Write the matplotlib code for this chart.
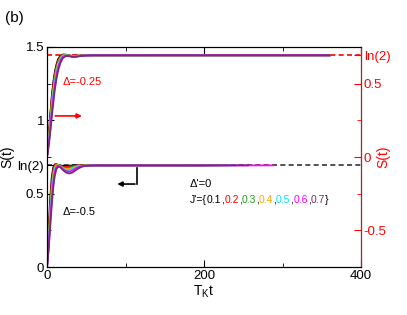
import numpy as np
import matplotlib.pyplot as plt

plt.rcParams['font.family'] = ['Liberation Sans', 'DejaVu Sans']
plt.rcParams['mathtext.fontset'] = 'custom'
plt.rcParams['mathtext.rm'] = 'Liberation Sans'
plt.rcParams['mathtext.it'] = 'Liberation Sans:italic'

LN2 = np.log(2)

# time grid of the early part (T_K t), same for all curves
t_grid = [0, 2, 4, 6, 8, 10, 12, 14, 17, 20, 24, 28, 32, 36, 40, 45, 50, 60, 80]

j_values = ['0.1', '0.2', '0.3', '0.4', '0.5', '0.6', '0.7']
colors = ['black', 'red', '#1a9e1a', '#ffa500', '#00e5ff', '#ff00ff', '#7b2a7b']

# Delta = -0.5, left axis
s_low = [
    [0, 0.24, 0.46, 0.61, 0.68, 0.700, 0.700, 0.696, 0.692, 0.690, 0.690, 0.691, 0.692, 0.693, 0.693, 0.693, 0.693, 0.693, 0.693],
    [0, 0.21, 0.42, 0.58, 0.665, 0.695, 0.700, 0.697, 0.690, 0.685, 0.683, 0.685, 0.688, 0.690, 0.692, 0.693, 0.693, 0.693, 0.693],
    [0, 0.19, 0.39, 0.55, 0.645, 0.688, 0.698, 0.696, 0.688, 0.680, 0.675, 0.677, 0.682, 0.687, 0.690, 0.692, 0.693, 0.693, 0.693],
    [0, 0.17, 0.36, 0.52, 0.625, 0.678, 0.695, 0.695, 0.686, 0.675, 0.668, 0.668, 0.675, 0.683, 0.688, 0.691, 0.693, 0.693, 0.693],
    [0, 0.15, 0.33, 0.49, 0.600, 0.665, 0.690, 0.693, 0.685, 0.672, 0.662, 0.660, 0.667, 0.678, 0.685, 0.690, 0.692, 0.693, 0.693],
    [0, 0.13, 0.30, 0.46, 0.575, 0.648, 0.682, 0.690, 0.683, 0.668, 0.654, 0.650, 0.657, 0.670, 0.681, 0.688, 0.691, 0.693, 0.693],
    [0, 0.11, 0.27, 0.42, 0.545, 0.625, 0.668, 0.684, 0.680, 0.663, 0.645, 0.638, 0.643, 0.658, 0.673, 0.685, 0.690, 0.693, 0.693],
]
t_end_low = [200, 210, 220, 230, 240, 288, 256]

# Delta = -0.25, right axis
s_up = [
    [0, 0.13, 0.28, 0.41, 0.51, 0.580, 0.630, 0.665, 0.690, 0.698, 0.697, 0.692, 0.689, 0.690, 0.691, 0.692, 0.693, 0.693, 0.693],
    [0, 0.12, 0.26, 0.39, 0.49, 0.565, 0.620, 0.655, 0.685, 0.696, 0.697, 0.692, 0.688, 0.689, 0.690, 0.692, 0.693, 0.693, 0.693],
    [0, 0.11, 0.24, 0.37, 0.47, 0.550, 0.605, 0.645, 0.680, 0.694, 0.696, 0.691, 0.687, 0.688, 0.690, 0.692, 0.693, 0.693, 0.693],
    [0, 0.10, 0.22, 0.35, 0.45, 0.530, 0.590, 0.635, 0.673, 0.691, 0.695, 0.690, 0.686, 0.687, 0.689, 0.691, 0.693, 0.693, 0.693],
    [0, 0.09, 0.20, 0.32, 0.43, 0.510, 0.575, 0.620, 0.665, 0.687, 0.694, 0.690, 0.685, 0.685, 0.688, 0.691, 0.693, 0.693, 0.693],
    [0, 0.08, 0.18, 0.30, 0.40, 0.490, 0.555, 0.605, 0.655, 0.682, 0.692, 0.689, 0.684, 0.684, 0.687, 0.690, 0.692, 0.693, 0.693],
    [0, 0.07, 0.16, 0.27, 0.37, 0.460, 0.530, 0.585, 0.640, 0.673, 0.688, 0.687, 0.682, 0.682, 0.685, 0.689, 0.692, 0.693, 0.693],
]
t_end_up = [360, 360, 360, 360, 360, 360, 360]

fig = plt.figure(figsize=(4.07, 3.15), dpi=100)
ax = fig.add_axes([0.1155, 0.152, 0.7715, 0.699])
ax2 = ax.twinx()

ax.axhline(LN2, color='#333333', ls=(0, (3, 2)), lw=1.2, zorder=1)
ax2.axhline(LN2, color='red', ls=(0, (3, 2)), lw=1.2, zorder=1)

for i in range(len(j_values)):
    ax.plot(t_grid + [t_end_low[i]], s_low[i] + [LN2], color=colors[i], lw=1.3, zorder=2)
    ax2.plot(t_grid + [t_end_up[i]], s_up[i] + [LN2], color=colors[i], lw=1.3, zorder=2)

ax.set_xlim(0, 400)
ax.set_ylim(0, 1.5)
ax2.set_ylim(-0.75, 0.75)

ax.set_xticks([0, 200, 400])
ax.set_xticks([100, 300], minor=True)
ax.set_yticks([0, 0.5, LN2, 1, 1.5])
ax.set_yticklabels(['0', '0.5', 'ln(2)', '1', '1.5'])
ax.set_yticks([0.25, 0.75, 1.25], minor=True)
ax.tick_params(which='both', direction='in', top=True, labelsize=9.5, pad=2)
ax.tick_params(which='major', length=5)
ax.tick_params(which='minor', length=3)

ax2.set_yticks([-0.5, 0, 0.5, LN2])
ax2.set_yticklabels(['-0.5', '0', '0.5', 'ln(2)'])
ax2.set_yticks([-0.25, 0.25], minor=True)
ax2.tick_params(which='both', direction='in', colors='red', labelsize=9.5, pad=2)
ax2.tick_params(which='major', length=5)
ax2.tick_params(which='minor', length=3)
ax2.spines['right'].set_color('red')

ax.set_xlabel(r'T$_{\rm K}$t', fontsize=10, labelpad=1)
ax.set_ylabel('S(t)', fontsize=10)
ax.yaxis.set_label_coords(-0.105, 0.5)
ax2.set_ylabel('S(t)', fontsize=10, color='red')
ax2.yaxis.set_label_coords(1.05, 0.5)

# arrows pointing to the axis of each set
ax.annotate('', xy=(48, 1.03), xytext=(7, 1.03),
            arrowprops=dict(arrowstyle='-|>', color='red', lw=1.2, mutation_scale=7))
ax.plot([115, 115], [0.675, 0.566], color='black', lw=1.2)
ax.annotate('', xy=(86, 0.566), xytext=(115.5, 0.566),
            arrowprops=dict(arrowstyle='-|>', color='black', lw=1.2, mutation_scale=7))

ax.text(20, 1.26, r'Δ=-0.25', color='red', fontsize=8, va='center')
ax.text(20, 0.375, r'Δ=-0.5', color='black', fontsize=8, va='center')
ax.text(182, 0.566, "Δ'=0", color='black', fontsize=8, va='center')

# multicoloured J' list: each piece right-aligned at the measured width of
# the text up to and including it
renderer = fig.canvas.get_renderer()
pieces = [("J'={", 'black')]
for i, j in enumerate(j_values):
    pieces.append((j, colors[i]))
    pieces.append((',' if i < len(j_values) - 1 else '}', 'black'))
prefix = ''
for s, c in pieces:
    prefix += s
    probe = ax.text(0, 0, prefix, fontsize=7.5)
    w = probe.get_window_extent(renderer).width * 72 / fig.dpi
    probe.remove()
    ax.annotate(s, xy=(182, 0.457), xycoords='data', xytext=(w, 0),
                textcoords='offset points', va='center', ha='right',
                color=c, fontsize=7.5)

fig.text(0.012, 0.943, '(b)', fontsize=11, va='center')

fig.savefig('out.png', dpi=100)
